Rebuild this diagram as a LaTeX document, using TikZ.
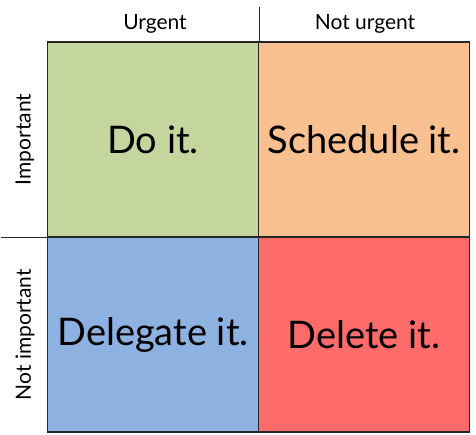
\documentclass[tikz,border=0pt]{standalone}
\usepackage{fontspec}
\setmainfont{Lato}
\definecolor{cgreen}{HTML}{C4D69E}
\definecolor{corange}{HTML}{F8BF8F}
\definecolor{cblue}{HTML}{8DB1E1}
\definecolor{cred}{HTML}{FE6B6B}
\begin{document}
\begin{tikzpicture}[x=1pt,y=-1pt,
  quad/.style={draw=black!85,line width=1.2pt,minimum width=211pt,minimum height=195pt,inner sep=0pt,font=\fontsize{38}{44}\selectfont},
  head/.style={font=\fontsize{21}{25}\selectfont},
  rule/.style={draw=black!85,line width=1.2pt}]
\useasboundingbox (0,0) rectangle (476,435);
\node[quad,fill=cgreen] (q1) at (153,139.5) {Do it.};
\node[quad,fill=corange] (q2) at (364,139.5) {Schedule it.};
\node[quad,fill=cblue] (q3) at (153,334.5) {Delegate it.};
\node[quad,fill=cred] (q4) at (364,334.5) {Delete it.};
\coordinate (vt) at ([yshift=34pt]q1.north east);
\coordinate (hl) at ([xshift=-46pt]q1.south west);
\draw[rule] (vt) -- (q1.north east);
\draw[rule] (hl) -- (q1.south west);
\node[head] (u) at (155,24) {Urgent};
\node[head] (nu) at (365,24) {Not urgent};
\node[head,rotate=90] (im) at (25,139.5) {Important};
\node[head,rotate=90] (ni) at (25,334.5) {Not important};
\end{tikzpicture}
\end{document}
